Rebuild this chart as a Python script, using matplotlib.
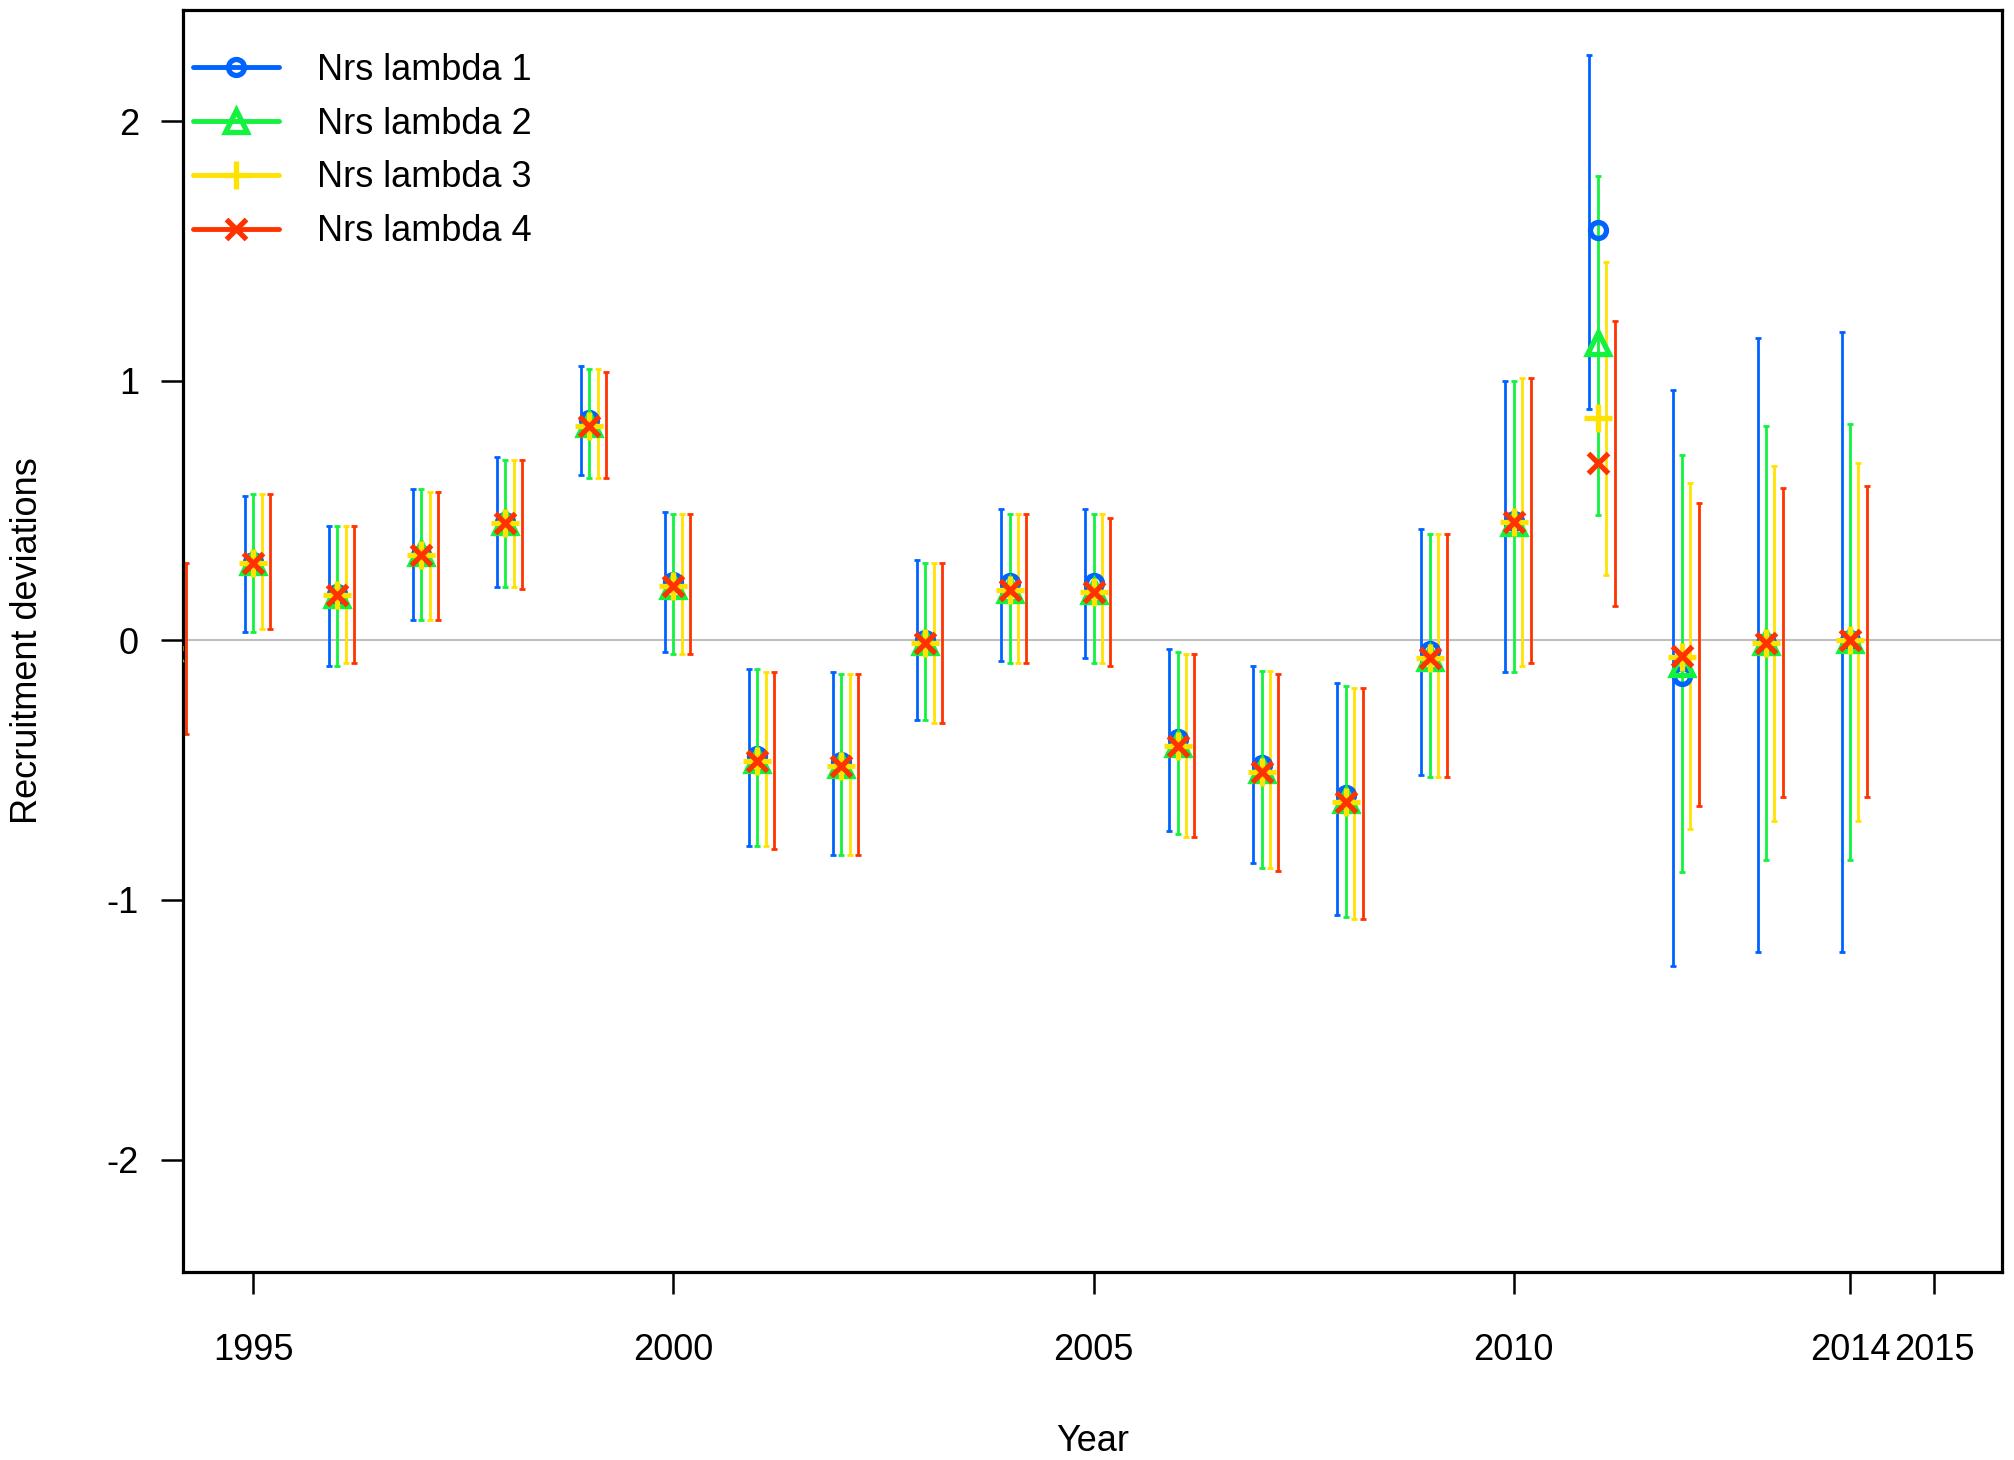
import matplotlib
matplotlib.use('Agg')
import numpy as np
import matplotlib.pyplot as plt
from matplotlib.lines import Line2D

plt.rcParams['font.family'] = ['Liberation Sans', 'DejaVu Sans']
plt.rcParams['axes.unicode_minus'] = False

years = np.arange(1994, 2015)

# estimates and interval bounds, one set per model
est1 = [-0.03, 0.30, 0.18, 0.33, 0.455, 0.85, 0.225, -0.446, -0.467, 0.0, 0.222,
        0.222, -0.381, -0.48, -0.595, -0.04, 0.46, 1.58, -0.138, -0.01, 0.0]
lo1 = [-0.36, 0.032, -0.099, 0.077, 0.207, 0.637, -0.045, -0.794, -0.826, -0.307, -0.078,
       -0.067, -0.736, -0.858, -1.057, -0.518, -0.121, 0.889, -1.255, -1.199, -1.199]
hi1 = [0.30, 0.554, 0.441, 0.584, 0.705, 1.057, 0.494, -0.110, -0.121, 0.309, 0.505,
       0.505, -0.034, -0.099, -0.164, 0.428, 1.000, 2.253, 0.965, 1.164, 1.186]

est2 = [-0.03, 0.30, 0.175, 0.335, 0.455, 0.835, 0.21, -0.46, -0.48, -0.005, 0.195,
        0.19, -0.40, -0.50, -0.615, -0.068, 0.45, 1.144, -0.09, -0.005, 0.0]
lo2 = [-0.36, 0.032, -0.099, 0.077, 0.207, 0.627, -0.054, -0.794, -0.826, -0.307, -0.089,
       -0.089, -0.747, -0.879, -1.065, -0.528, -0.121, 0.484, -0.892, -0.847, -0.847]
hi2 = [0.30, 0.563, 0.441, 0.584, 0.695, 1.044, 0.485, -0.110, -0.131, 0.296, 0.485,
       0.485, -0.044, -0.120, -0.175, 0.408, 1.000, 1.788, 0.715, 0.825, 0.835]

est3 = [-0.03, 0.296, 0.174, 0.328, 0.45, 0.825, 0.209, -0.464, -0.484, -0.012, 0.194,
        0.187, -0.407, -0.506, -0.622, -0.069, 0.457, 0.858, -0.063, -0.012, 0.0]
lo3 = [-0.36, 0.044, -0.089, 0.077, 0.207, 0.627, -0.054, -0.794, -0.826, -0.320, -0.089,
       -0.089, -0.757, -0.879, -1.073, -0.528, -0.099, 0.251, -0.728, -0.695, -0.695]
hi3 = [0.30, 0.563, 0.441, 0.571, 0.695, 1.044, 0.485, -0.121, -0.131, 0.296, 0.485,
       0.485, -0.053, -0.120, -0.183, 0.408, 1.012, 1.459, 0.604, 0.671, 0.683]

est4 = [-0.03, 0.296, 0.174, 0.328, 0.45, 0.825, 0.209, -0.464, -0.484, -0.012, 0.194,
        0.187, -0.407, -0.506, -0.622, -0.069, 0.457, 0.682, -0.06, -0.012, 0.0]
lo4 = [-0.362, 0.044, -0.089, 0.077, 0.196, 0.627, -0.054, -0.804, -0.826, -0.320, -0.089,
       -0.099, -0.757, -0.890, -1.073, -0.528, -0.089, 0.132, -0.638, -0.604, -0.604]
hi4 = [0.297, 0.563, 0.441, 0.571, 0.695, 1.032, 0.485, -0.121, -0.131, 0.296, 0.485,
       0.472, -0.053, -0.131, -0.183, 0.408, 1.012, 1.228, 0.528, 0.585, 0.594]

labels = ['Nrs lambda 1', 'Nrs lambda 2', 'Nrs lambda 3', 'Nrs lambda 4']
colors = ['#0063FF', '#13F23F', '#FFE200', '#FF3300']
shifts = [-0.1, 0.0, 0.1, 0.2]
xticks = [1995, 2000, 2005, 2010, 2014, 2015]
yticks = [-2, -1, 0, 1, 2]

series = [(est1, lo1, hi1), (est2, lo2, hi2), (est3, lo3, hi3), (est4, lo4, hi4)]
mstyle = [dict(marker='o', ms=11.5, mew=3.8, mfc='none'),
          dict(marker='^', ms=16, mew=3.8, mfc='none'),
          dict(marker='+', ms=20, mew=3.8),
          dict(marker='x', ms=15, mew=3.8)]

fig = plt.figure(figsize=(20.15, 14.6), dpi=100)
ax = fig.add_axes([0.091, 0.1288, 0.9026, 0.8644])

ax.axhline(0, color='#BEBEBE', lw=1.5, zorder=1)

for (e, lo, hi), c, s in zip(series, colors, shifts):
    e = np.array(e); lo = np.array(lo); hi = np.array(hi)
    ax.errorbar(years + s, e, yerr=[e - lo, hi - e], fmt='none', ecolor=c,
                elinewidth=2.0, capsize=2.4, capthick=2.0, zorder=2)

for (e, lo, hi), c, m in zip(series, colors, mstyle):
    ax.plot(years, e, ls='none', color=c, zorder=3, **m)

ax.set_xlim(1994.17, 2015.81)
ax.set_ylim(-2.433, 2.428)
ax.set_xticks(xticks)
ax.set_yticks(yticks)
ax.set_yticklabels([str(v) for v in yticks])
ax.tick_params(axis='both', direction='out', length=16, width=1.8, labelsize=26)
ax.tick_params(axis='x', pad=28)
ax.tick_params(axis='y', pad=16)
for sp in ax.spines.values():
    sp.set_linewidth(2.3)

fig.text(0.5423, 0.0062, 'Year', ha='center', va='baseline', fontsize=26)
fig.text(28 / 2015, 0.561, 'Recruitment deviations', rotation=90,
         ha='center', va='center', fontsize=26)

handles = [Line2D([], [], color=c, lw=3.5, solid_capstyle='round', **m)
           for c, m in zip(colors, mstyle)]
ax.legend(handles, labels, loc='upper left', bbox_to_anchor=(0.0052, 0.966),
          frameon=False, fontsize=26, borderpad=0, borderaxespad=0,
          handlelength=2.4, handletextpad=1.05, labelspacing=0.52)

fig.savefig('out.png', dpi=100)
